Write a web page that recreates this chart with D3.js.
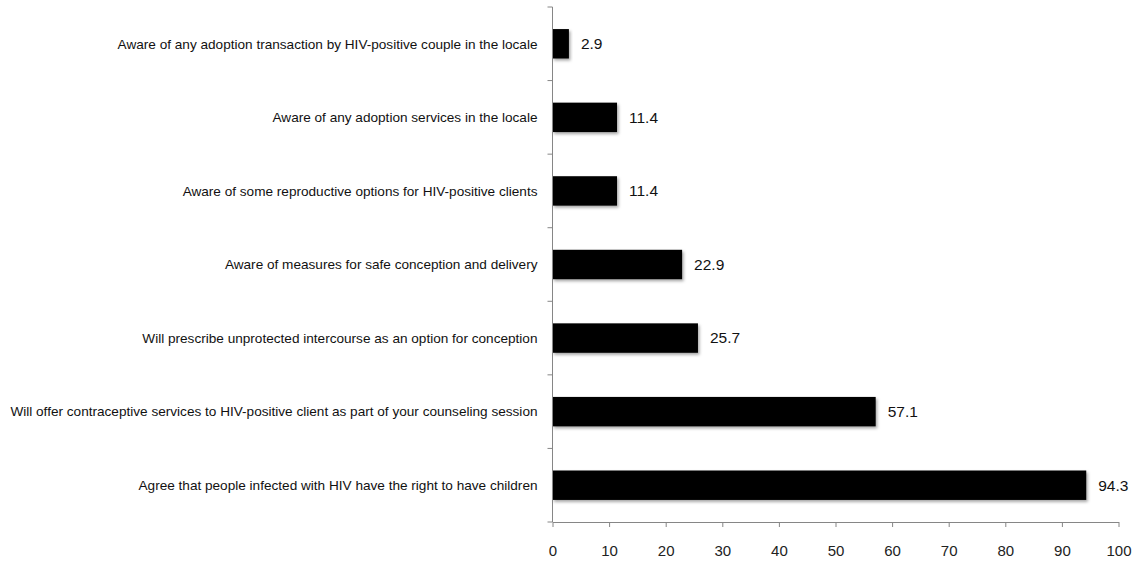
<!DOCTYPE html>
<html><head><meta charset="utf-8">
<script src="https://cdn.jsdelivr.net/npm/d3@7"></script>
<style>body{margin:0;background:#fff}</style>
</head><body>
<svg id="c" width="1136" height="564"></svg>
<script>
const categories = [
  "Aware of any adoption transaction by HIV-positive couple in the locale",
  "Aware of any adoption services in the locale",
  "Aware of some reproductive options for HIV-positive clients",
  "Aware of measures for safe conception and delivery",
  "Will prescribe unprotected intercourse as an option for conception",
  "Will offer contraceptive services to HIV-positive client as part of your counseling session",
  "Agree that people infected with HIV have the right to have children"
];
const values = [2.9, 11.4, 11.4, 22.9, 25.7, 57.1, 94.3];
const xTicks = [0,10,20,30,40,50,60,70,80,90,100];

(function(){
const svg = d3.select("#c");
const mL = 552.5, mR = 1118.5, mT = 7, mB = 522;
const x = d3.scaleLinear().domain([0,100]).range([mL,mR]);
const y = d3.scaleBand().domain(categories).range([mT,mB]).paddingInner(0.6).paddingOuter(0.3);

const defs = svg.append("defs");
const f = defs.append("filter").attr("id","sh").attr("x","-10%").attr("y","-30%").attr("width","130%").attr("height","180%");
f.append("feDropShadow").attr("dx",1.5).attr("dy",2).attr("stdDeviation",1.5).attr("flood-color","#000").attr("flood-opacity",0.35);

svg.append("g").selectAll("rect").data(values).join("rect")
  .attr("x", x(0)).attr("y",(d,i)=>y(categories[i]))
  .attr("width", d=>x(d)-x(0)).attr("height", y.bandwidth())
  .attr("fill","#000").attr("filter","url(#sh)");

const g = svg.append("g");
g.append("line").attr("x1",mL).attr("x2",mL).attr("y1",mT).attr("y2",mB).attr("stroke","#868686").attr("stroke-width",1);
const yt = d3.range(categories.length+1).map(i=>mT + i*(mB-mT)/categories.length);
g.selectAll(".yt").data(yt).join("line").attr("x1",mL-5).attr("x2",mL).attr("y1",d=>d).attr("y2",d=>d).attr("stroke","#868686");

const xa = svg.append("g").attr("transform",`translate(0,${mB})`)
  .call(d3.axisBottom(x).tickValues(xTicks).tickSize(5).tickSizeOuter(0).tickPadding(18));
xa.select(".domain").attr("stroke","#868686");
xa.selectAll(".tick line").attr("stroke","#868686");
xa.selectAll("text").attr("font-family","Liberation Sans, Arial, sans-serif").attr("font-size",15).attr("fill","#222");

svg.append("g").selectAll("text").data(categories).join("text")
  .attr("x", mL-15).attr("y", d=>y(d)+y.bandwidth()/2).attr("dy","0.35em")
  .attr("text-anchor","end").attr("font-family","Liberation Sans, Arial, sans-serif").attr("font-size",13.6).attr("fill","#111")
  .text(d=>d);

svg.append("g").selectAll("text").data(values).join("text")
  .attr("x", d=>x(d)+12).attr("y",(d,i)=>y(categories[i])+y.bandwidth()/2).attr("dy","0.35em")
  .attr("font-family","Liberation Sans, Arial, sans-serif").attr("font-size",15.5).attr("fill","#111")
  .text(d=>d.toFixed(1));
})();
</script>
</body></html>
